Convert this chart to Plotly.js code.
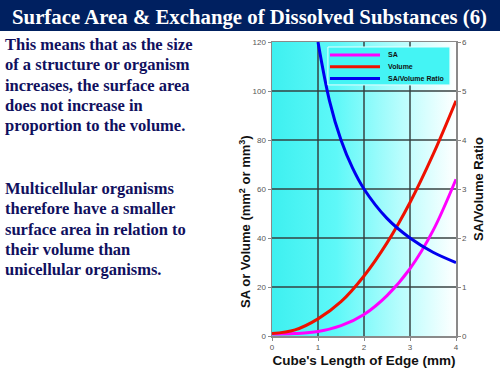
<!DOCTYPE html>
<html>
<head>
<meta charset="utf-8">
<script src="https://cdn.plot.ly/plotly-3.0.1.min.js"></script>
<style>
  html, body { margin:0; padding:0; width:500px; height:375px; overflow:hidden; background:#ffffff; }
  #chart { position:absolute; left:0; top:0; width:500px; height:375px; }
  #titlebar { position:absolute; left:0; top:0; width:500px; height:31px; background:#002060;
    color:#ffffff; font-family:"Liberation Serif","Times New Roman",serif; font-weight:bold;
    font-size:20.8px; line-height:33px; padding-left:12px; box-sizing:border-box; white-space:nowrap; }
  .para { position:absolute; left:5px; color:#10105e; font-family:"Liberation Serif","Times New Roman",serif;
    font-weight:bold; font-size:16.5px; line-height:20.3px; white-space:nowrap; }
</style>
</head>
<body>
<div id="chart"></div>
<div id="titlebar">Surface Area &amp; Exchange of Dissolved Substances (6)</div>
<div class="para" style="top:35px;">This means that as the size<br>of a structure or organism<br>increases, the surface area<br>does not increase in<br>proportion to the volume.</div>
<div class="para" style="top:179px;">Multicellular organisms<br>therefore have a smaller<br>surface area in relation to<br>their volume than<br>unicellular organisms.</div>
<script>
// ---- data ----
var edge = [0, 0.5, 1, 1.5, 2, 2.5, 3, 3.5, 4];
var saValues = [0.8, 1.0, 1.8, 4.2, 8.8, 16.5, 27.5, 43, 64];
var volumeValues = [1, 2.5, 7, 14, 24.5, 38, 54.5, 74, 96];
var ratioEdge = [1, 1.25, 1.5, 1.75, 2, 2.5, 3, 3.5, 4];
var ratioValues = [6, 4.8, 4, 3.43, 3, 2.4, 2, 1.71, 1.5];
var seriesNames = ["SA", "Volume", "SA/Volume Ratio"];
var seriesColors = ["#ff00ff", "#ee1100", "#0000ee"];
var xTicks = [0, 1, 2, 3, 4];
var yTicks = [0, 20, 40, 60, 80, 100, 120];
var y2Ticks = [0, 1, 2, 3, 4, 5, 6];

var traces = [
  { x: edge, y: saValues, name: seriesNames[0], type: "scatter", mode: "lines",
    line: { color: seriesColors[0], width: 3, shape: "spline" }, yaxis: "y" },
  { x: edge, y: volumeValues, name: seriesNames[1], type: "scatter", mode: "lines",
    line: { color: seriesColors[1], width: 3, shape: "spline" }, yaxis: "y" },
  { x: ratioEdge, y: ratioValues, name: seriesNames[2], type: "scatter", mode: "lines",
    line: { color: seriesColors[2], width: 3, shape: "spline" }, yaxis: "y2" }
];

var grad = "<svg xmlns='http://www.w3.org/2000/svg' width='200' height='100' preserveAspectRatio='none'>" +
  "<defs><linearGradient id='g' x1='0' y1='0' x2='1' y2='0'>" +
  "<stop offset='0' stop-color='#3ef0f0'/><stop offset='0.35' stop-color='#5ef8f8'/>" +
  "<stop offset='0.7' stop-color='#b8fdfd'/><stop offset='1' stop-color='#ffffff'/>" +
  "</linearGradient></defs><rect width='200' height='100' fill='url(#g)'/></svg>";
var gradUri = "data:image/svg+xml;charset=utf-8," + encodeURIComponent(grad);

var tickFont = { family: "Arial, Liberation Sans, sans-serif", size: 8, color: "#555555" };
var gridCol = "rgba(50,60,60,0.72)";
var legFont = { family: "Arial, Liberation Sans, sans-serif", size: 7, color: "#111111", weight: "bold" };

// compact legend box (paper coordinates of the plot area)
var legBox = { x0: 0.304, x1: 0.967, y0: 0.854, y1: 0.983 };
var legRows = [0.956, 0.916, 0.876];
var shapes = [{
  type: "rect", xref: "paper", yref: "paper", x0: legBox.x0, x1: legBox.x1, y0: legBox.y0, y1: legBox.y1,
  fillcolor: "#44f4f4", line: { color: "#e8ffff", width: 1 }, layer: "above"
}];
var annotations = [{
  text: "SA or Volume (mm<sup>2</sup> or mm<sup>3</sup>)", textangle: -90,
  xref: "paper", yref: "paper", x: -0.147, y: 0.391, xanchor: "center", yanchor: "middle",
  showarrow: false,
  font: { family: "Arial, Liberation Sans, sans-serif", size: 13, color: "#111111", weight: "bold" }
}];
seriesNames.forEach(function (nm, i) {
  shapes.push({ type: "line", xref: "paper", yref: "paper", x0: 0.315, x1: 0.587,
    y0: legRows[i], y1: legRows[i], line: { color: seriesColors[i], width: 3 }, layer: "above" });
  annotations.push({ text: nm, xref: "paper", yref: "paper", x: 0.622, y: legRows[i],
    xanchor: "left", yanchor: "middle", showarrow: false, font: legFont });
});

var layout = {
  width: 500, height: 375,
  margin: { l: 272, r: 44, t: 42, b: 39, pad: 0 },
  paper_bgcolor: "rgba(0,0,0,0)",
  plot_bgcolor: "rgba(0,0,0,0)",
  showlegend: false,
  images: [{
    source: gradUri, xref: "x", yref: "y", x: 0, y: 120, sizex: 4, sizey: 120,
    sizing: "stretch", layer: "below", xanchor: "left", yanchor: "top"
  }],
  shapes: shapes,
  annotations: annotations,
  xaxis: {
    range: [0, 4], tickvals: xTicks, ticktext: xTicks.map(String),
    showgrid: true, gridcolor: gridCol, gridwidth: 1.5, zeroline: false,
    showline: true, linecolor: "#8a8a8a", linewidth: 1.5, mirror: true,
    ticks: "outside", ticklen: 3, tickcolor: "#8a8a8a", tickfont: tickFont,
    title: { text: "Cube's Length of Edge (mm)", standoff: 4,
      font: { family: "Arial, Liberation Sans, sans-serif", size: 13.5, color: "#111111", weight: "bold" } }
  },
  yaxis: {
    range: [0, 120], tickvals: yTicks, ticktext: yTicks.map(String),
    showgrid: true, gridcolor: gridCol, gridwidth: 1.5, zeroline: false,
    showline: true, linecolor: "#8a8a8a", linewidth: 1.5,
    ticks: "outside", ticklen: 3, tickcolor: "#8a8a8a", tickfont: tickFont
  },
  yaxis2: {
    range: [0, 6], tickvals: y2Ticks, ticktext: y2Ticks.map(String),
    overlaying: "y", side: "right", showgrid: false, zeroline: false,
    showline: true, linecolor: "#8a8a8a", linewidth: 1.5,
    ticks: "outside", ticklen: 3, tickcolor: "#8a8a8a", tickfont: tickFont,
    title: { text: "SA/Volume Ratio", standoff: 8,
      font: { family: "Arial, Liberation Sans, sans-serif", size: 13, color: "#111111", weight: "bold" } }
  }
};

Plotly.newPlot("chart", traces, layout, { displayModeBar: false, staticPlot: true });
</script>
</body>
</html>
